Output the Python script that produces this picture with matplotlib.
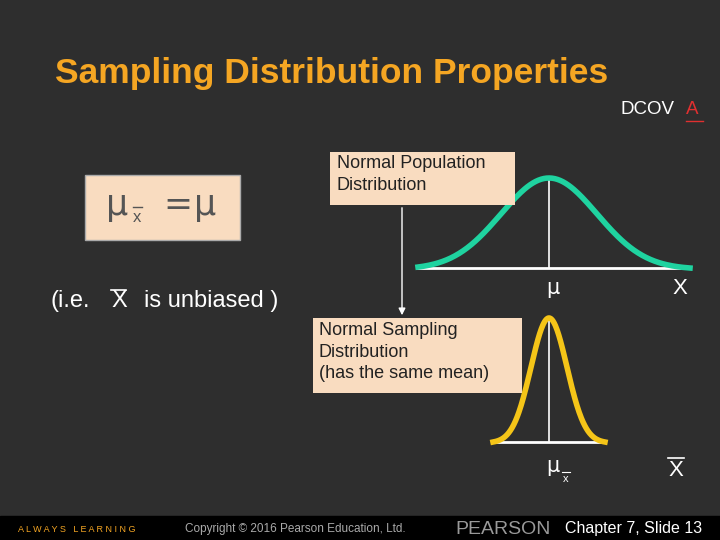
import numpy as np
import matplotlib.pyplot as plt
from matplotlib.patches import Rectangle

# curve parameters (pixel space of the slide)
pop_center, pop_sd, pop_range = 549, 48, (418, 690)
samp_center, samp_sd, samp_range = 549, 18, (493, 605)
pop_base, pop_peak = 268, 178
samp_base, samp_peak = 442, 318

bg = "#2e2e2e"
fnt = "Liberation Sans"
fig = plt.figure(figsize=(7.2, 5.4), dpi=100, facecolor=bg)
ax = fig.add_axes([0, 0, 1, 1])
ax.set_xlim(0, 720)
ax.set_ylim(540, 0)
ax.axis("off")
ax.add_patch(Rectangle((0, 0), 720, 540, color=bg, zorder=0))

ax.text(55, 73, "Sampling Distribution Properties", color="#f5a623", fontsize=25.5,
        fontweight="bold", va="center", family=fnt)
ax.text(620, 110, "DCOV", color="white", fontsize=13.5, va="center", family=fnt)
ax.text(686, 110, "A", color="#e03030", fontsize=13.5, va="center", family=fnt)
ax.plot([686, 703], [121, 121], color="#e03030", lw=1)

# formula box
ax.add_patch(Rectangle((85, 175), 155, 65, facecolor="#f9dcc0", edgecolor="#aaaaaa", zorder=2))
ax.text(106, 205, "μ", color="#555555", fontsize=25, va="center", family="DejaVu Sans", zorder=3)
ax.text(133, 218, "x", color="#555555", fontsize=12, va="center", family=fnt, zorder=3)
ax.plot([133, 142], [207, 207], color="#555555", lw=1, zorder=3)
ax.text(163, 205, "=", color="#555555", fontsize=25, va="center", family="DejaVu Sans", zorder=3)
ax.text(194, 205, "μ", color="#555555", fontsize=25, va="center", family="DejaVu Sans", zorder=3)

ax.text(50, 301, "(i.e.", color="white", fontsize=17, va="center", family=fnt)
ax.text(111, 301, "X", color="white", fontsize=17, va="center", family=fnt)
ax.plot([111, 126], [290, 290], color="white", lw=1.2)
ax.text(144, 301, "is unbiased )", color="white", fontsize=17, va="center", family=fnt)


def curve(c, sd, rng, base, peak, color):
    x = np.linspace(rng[0], rng[1], 200)
    y = np.exp(-0.5 * ((x - c) / sd) ** 2)
    y = (y - y.min()) / (y.max() - y.min())
    ax.plot(x, base - y * (base - peak), color=color, lw=4, zorder=3)
    ax.plot([rng[0], rng[1]], [base, base], color="white", lw=2, zorder=2)
    ax.plot([c, c], [base, peak], color="white", lw=1.2, zorder=2)


curve(pop_center, pop_sd, pop_range, pop_base, pop_peak, "#1fd3a0")
curve(samp_center, samp_sd, samp_range, samp_base, samp_peak, "#f5c518")

ax.text(553, 288, "μ", color="white", fontsize=15, ha="center", va="center", family="DejaVu Sans")
ax.text(680, 288, "X", color="white", fontsize=16, ha="center", va="center", family=fnt)
ax.text(553, 466, "μ", color="white", fontsize=15, ha="center", va="center", family="DejaVu Sans")
ax.text(566, 479, "x", color="white", fontsize=8, ha="center", va="center", family=fnt)
ax.plot([562, 570], [472, 472], color="white", lw=0.8)
ax.text(676, 470, "X", color="white", fontsize=16, ha="center", va="center", family=fnt)
ax.plot([668, 684], [458, 458], color="white", lw=1.2)

# label boxes
ax.add_patch(Rectangle((330, 152), 185, 53, facecolor="#f9dcc0", zorder=4))
ax.text(337, 155, "Normal Population\nDistribution", color="#222222", fontsize=13,
        va="top", ha="left", linespacing=1.35, zorder=5, family=fnt)
ax.annotate("", xy=(402, 318), xytext=(402, 205),
            arrowprops=dict(arrowstyle="-|>", color="white", lw=1), zorder=4)
ax.add_patch(Rectangle((313, 318), 209, 75, facecolor="#f9dcc0", zorder=4))
ax.text(319, 322, "Normal Sampling\nDistribution\n(has the same mean)", color="#222222",
        fontsize=13, va="top", ha="left", linespacing=1.35, zorder=5, family=fnt)

# footer
ax.add_patch(Rectangle((0, 516), 720, 24, color="black", zorder=1))
ax.text(18, 529, "A L W A Y S   L E A R N I N G", color="#f5a623", fontsize=6.5, va="center", family=fnt)
ax.text(185, 529, "Copyright © 2016 Pearson Education, Ltd.", color="#aaaaaa", fontsize=8.5,
        va="center", family=fnt)
ax.text(455, 529, "PEARSON", color="#999999", fontsize=14, va="center", family=fnt)
ax.text(565, 529, "Chapter 7, Slide 13", color="white", fontsize=11.5, va="center", family=fnt)

fig.savefig("out.png", dpi=100, facecolor=bg)
